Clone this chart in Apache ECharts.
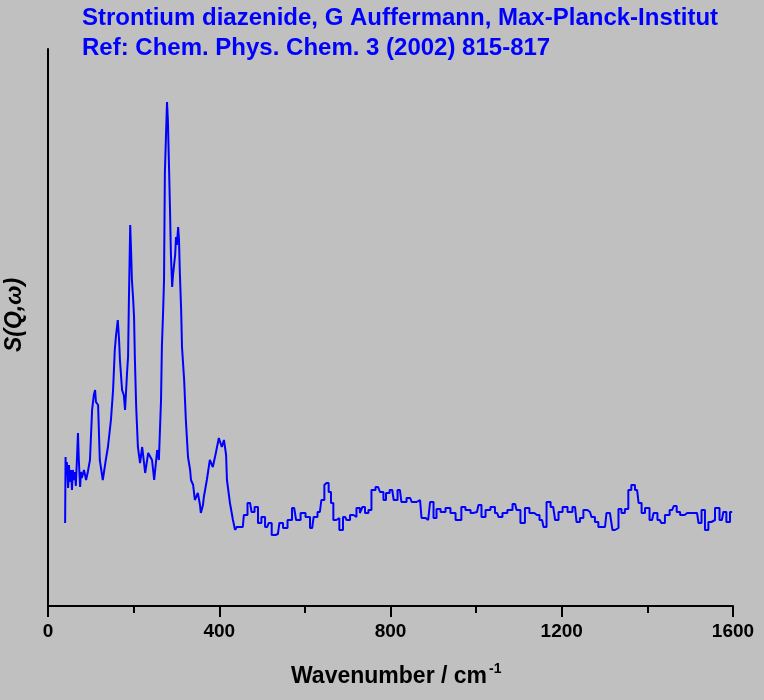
<!DOCTYPE html>
<html>
<head>
<meta charset="utf-8">
<script src="https://cdn.jsdelivr.net/npm/echarts@6/dist/echarts.min.js"></script>
<style>
html,body{margin:0;padding:0;background:#c0c0c0;}
#chart{width:764px;height:700px;}
</style>
</head>
<body>
<div id="chart"></div>
<script>
var titleLines = ["Strontium diazenide, G Auffermann, Max-Planck-Institut", "Ref: Chem. Phys. Chem. 3 (2002) 815-817"];
var xTicks = [0, 400, 800, 1200, 1600];
var xName = "Wavenumber / cm";
var xNameSup = "-1";
var yName = "S(Q,\u03c9)";
var stepStart = 437;

var wavenumber = [40,41,42,44,47,49,51,54,56,58,61,63,65,68,70,72,75,77,79,84,89,93,98,103,107,110,112,117,121,128,135,140,147,152,156,159,163,166,168,173,177,180,185,187,189,192,194,196,199,201,203,206,210,215,220,227,234,238,243,248,255,259,264,266,269,271,273,276,278,280,283,285,287,290,292,294,297,299,301,304,306,308,311,313,318,322,327,332,334,339,343,350,355,357,362,364,371,378,385,392,399,406,411,416,418,425,432,437,444,455,460,472,479,486,495,502,512,519,526,537,544,554,565,575,584,596,607,617,624,635,642,649,652,659,663,670,677,684,694,701,710,717,724,733,736,745,752,759,771,780,787,792,804,811,822,829,846,853,869,876,888,897,904,911,923,934,946,958,962,969,981,993,1002,1009,1016,1028,1039,1049,1056,1067,1079,1091,1098,1109,1119,1130,1142,1154,1161,1168,1180,1189,1196,1208,1219,1231,1238,1247,1254,1266,1273,1282,1289,1301,1308,1317,1320,1329,1336,1343,1352,1359,1366,1376,1383,1390,1399,1411,1418,1429,1436,1446,1458,1465,1472,1481,1493,1516,1523,1530,1539,1546,1553,1563,1574,1581,1588,1598];
var intensity = [83,149,131,144,118,141,124,136,116,136,126,134,120,151,173,146,119,134,128,136,126,134,146,196,211,216,204,201,146,126,146,159,186,216,256,271,286,266,246,216,211,196,236,249,306,381,356,326,306,289,246,199,159,143,159,133,153,151,146,126,156,146,206,259,296,326,433,476,504,486,433,396,353,319,331,339,351,369,361,379,366,333,296,259,226,186,149,136,126,121,106,113,101,93,101,109,126,146,139,153,168,159,166,151,126,103,86,76,79,79,91,103,94,99,83,89,79,83,71,72,83,78,86,98,86,93,89,78,89,94,106,121,123,114,103,86,88,76,89,86,91,89,98,93,99,93,96,116,119,114,106,113,116,106,116,104,108,104,106,88,86,104,88,97,94,98,93,86,86,99,96,93,94,101,89,96,99,93,89,93,96,102,96,83,98,93,91,86,79,104,99,86,94,99,94,99,84,88,96,94,89,84,79,79,93,94,76,78,97,93,97,116,121,116,103,93,98,86,93,86,83,91,96,100,94,91,93,93,83,96,76,84,86,98,86,94,84,94];

var lowData = [], highData = [];
wavenumber.forEach(function (x, i) {
  if (x <= stepStart) lowData.push([x, intensity[i]]);
  if (x >= stepStart) highData.push([x, intensity[i]]);
});
var FONT = "'Liberation Sans', Arial, Helvetica, sans-serif";
var lineStyle = { color: '#0000ff', width: 2 };

var chart = echarts.init(document.getElementById('chart'));
chart.setOption({
  backgroundColor: '#c0c0c0',
  animation: false,
  title: {
    text: titleLines.join('\n'),
    left: 82,
    top: 3,
    padding: 0,
    textStyle: { color: '#0000ff', fontSize: 24, fontWeight: 'bold', fontFamily: FONT, lineHeight: 30 }
  },
  grid: { left: 48, right: 31, top: 49, bottom: 94, containLabel: false },
  xAxis: {
    type: 'value',
    min: 0, max: 1600, interval: 400,
    axisLine: { show: true, lineStyle: { color: '#000', width: 2 } },
    axisTick: { show: true, length: 11, lineStyle: { color: '#000', width: 2 } },
    minorTick: { show: true, splitNumber: 2, length: 7, lineStyle: { color: '#000', width: 2 } },
    splitLine: { show: false },
    minorSplitLine: { show: false },
    axisLabel: {
      margin: 16, color: '#000', fontSize: 19, fontWeight: 'bold', fontFamily: FONT,
      formatter: function (v) { return xTicks.indexOf(v) >= 0 ? String(v) : ''; }
    }
  },
  yAxis: {
    type: 'value',
    min: 0, max: 557,
    axisLine: { show: true, lineStyle: { color: '#000', width: 2 } },
    axisTick: { show: false },
    axisLabel: { show: false },
    splitLine: { show: false }
  },
  graphic: [
    {
      type: 'text', x: 487, y: 677,
      style: { text: xName, align: 'right', verticalAlign: 'middle', fill: '#000', font: 'bold 23px ' + FONT }
    },
    {
      type: 'text', x: 489, y: 669,
      style: { text: xNameSup, align: 'left', verticalAlign: 'middle', fill: '#000', font: 'bold 14px ' + FONT }
    },
    {
      type: 'text', x: 15, y: 315, rotation: Math.PI / 2,
      style: { text: yName, align: 'center', verticalAlign: 'middle', fill: '#000', font: 'italic bold 23px ' + FONT }
    }
  ],
  series: [{
    type: 'line',
    data: lowData,
    showSymbol: false,
    lineStyle: lineStyle,
    itemStyle: { color: '#0000ff' }
  }, {
    type: 'line',
    data: highData,
    step: 'middle',
    showSymbol: false,
    lineStyle: lineStyle,
    itemStyle: { color: '#0000ff' }
  }]
});
</script>
</body>
</html>
